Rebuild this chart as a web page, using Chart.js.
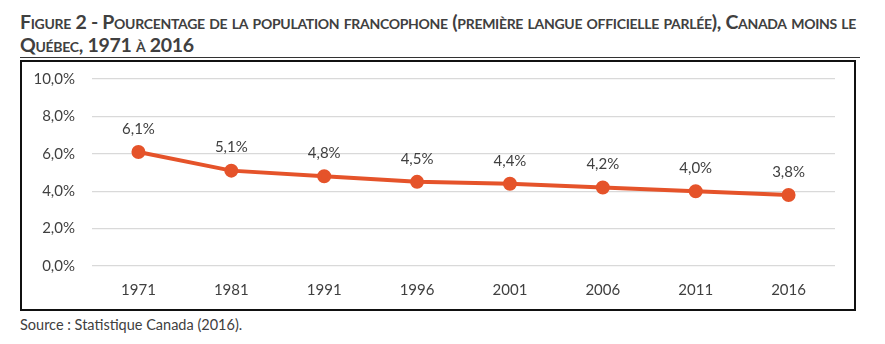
<!DOCTYPE html>
<html>
<head>
<meta charset="utf-8">
<script src="https://cdn.jsdelivr.net/npm/chart.js@4/dist/chart.umd.min.js"></script>
<style>
  body { margin: 0; background: #fff; width: 885px; height: 344px; position: relative; overflow: hidden; font-family: Lato, "Liberation Sans", sans-serif; }
  #titre { position: absolute; left: 20px; top: 10px; width: 865px; font-size: 19.5px; font-weight: bold; font-variant: small-caps; color: #404040; line-height: 23px; letter-spacing: -0.3px; white-space: nowrap; }
  #trait { position: absolute; left: 20px; top: 57px; width: 840px; height: 1px; background: #333; }
  #boite { position: absolute; left: 20px; top: 60px; width: 836px; height: 251px; border: 2.5px solid #111; box-sizing: border-box; }
  #boite canvas { display: block; }
  #source { position: absolute; left: 20px; top: 316px; font-size: 14.5px; color: #404040; }
</style>
</head>
<body>
<div id="titre">Figure 2 - Pourcentage de la population francophone (première langue officielle parlée), Canada moins le<br>Québec, 1971 à 2016</div>
<div id="trait"></div>
<div id="boite"><canvas id="graphique" width="831" height="246"></canvas></div>
<div id="source">Source : Statistique Canada (2016).</div>
<script>
// données
const annees = ['1971', '1981', '1991', '1996', '2001', '2006', '2011', '2016']
const pourcentages = [6.1, 5.1, 4.8, 4.5, 4.4, 4.2, 4.0, 3.8]
const graduationsY = [0, 2, 4, 6, 8, 10]

const enPourcent = v => v.toFixed(1).replace('.', ',') + '%'

// étiquettes au-dessus de chaque point
const etiquettes = {
    id: 'etiquettes',
    afterDatasetsDraw(chart) {
        const ctx = chart.ctx
        const meta = chart.getDatasetMeta(0)
        ctx.save()
        ctx.font = '15px Lato, "Liberation Sans", sans-serif'
        ctx.fillStyle = '#404040'
        ctx.textAlign = 'center'
        ctx.textBaseline = 'middle'
        meta.data.forEach((pt, i) => {
            ctx.fillText(enPourcent(pourcentages[i]), pt.x, pt.y - 23)
        })
        ctx.restore()
    }
}

const data = {
    labels: annees,
    datasets: [{
        data: pourcentages,
        borderColor: '#e5532a',
        backgroundColor: '#e5532a',
        borderWidth: 4,
        pointRadius: 5,
        pointHoverRadius: 5,
        tension: 0
    }]
}

const options = {
    responsive: false,
    animation: false,
    layout: { padding: { top: 0, right: 18, left: 0, bottom: 0 } },
    plugins: { legend: { display: false }, tooltip: { enabled: false } },
    scales: {
        x: {
            offset: true,
            grid: { display: false, drawTicks: false },
            border: { display: false },
            ticks: { color: '#404040', font: { size: 15, family: 'Lato' }, padding: 15 },
            afterFit: s => { s.height = 42 }
        },
        y: {
            min: 0,
            max: 10,
            afterBuildTicks: s => { s.ticks = graduationsY.map(v => ({ value: v })) },
            grid: { color: '#d9d9d9', drawTicks: false, lineWidth: 1.3 },
            border: { display: false },
            ticks: { color: '#404040', font: { size: 15, family: 'Lato' }, padding: 17, callback: v => enPourcent(v) },
            afterFit: s => { s.width = 70; s.paddingTop = 17; s.paddingBottom = 0 }
        }
    }
}

new Chart('graphique', { type: 'line', data, options, plugins: [etiquettes] })
</script>
</body>
</html>
